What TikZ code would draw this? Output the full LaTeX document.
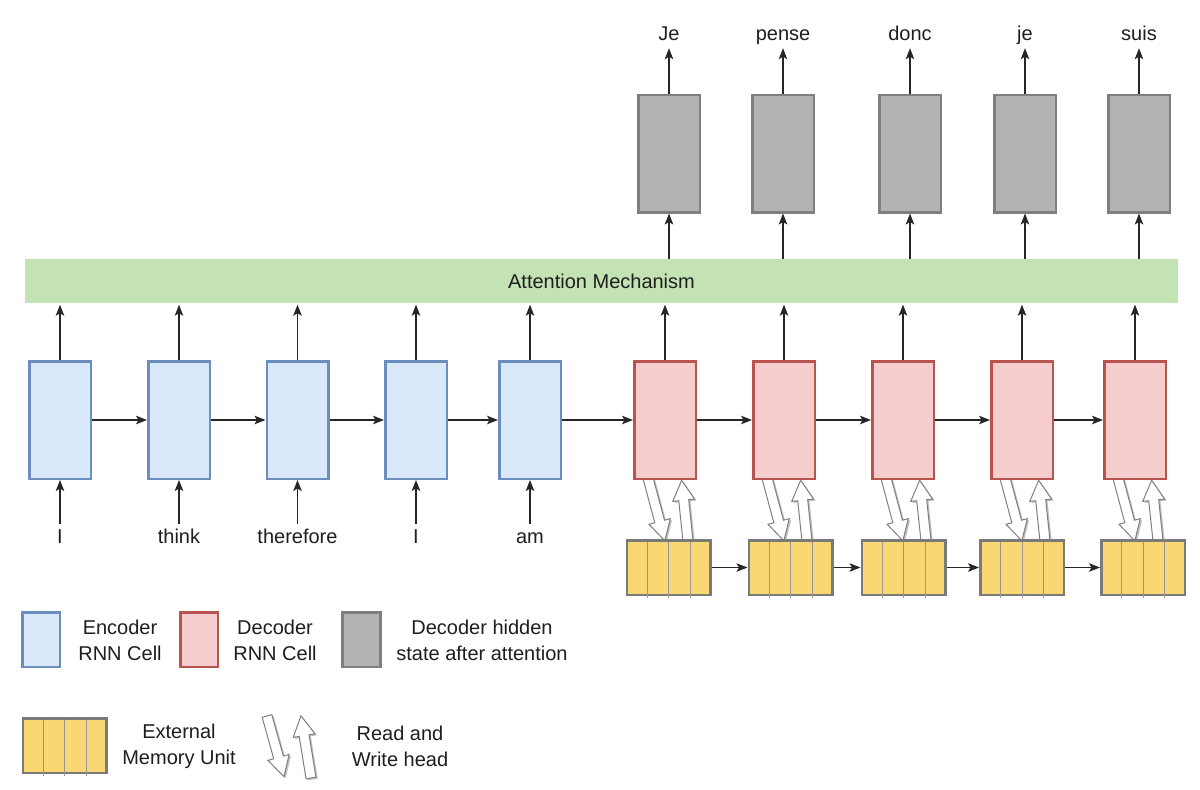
\documentclass[tikz,border=0pt]{standalone}
\usepackage{fontspec}
\setmainfont{Liberation Sans}
\usetikzlibrary{arrows.meta,calc,backgrounds}
\definecolor{encfill}{HTML}{DAE8FC}
\definecolor{encdraw}{HTML}{6C8EBF}
\definecolor{decfill}{HTML}{F5CDCC}
\definecolor{decdraw}{HTML}{B85450}
\definecolor{hidfill}{HTML}{B3B3B3}
\definecolor{hiddraw}{HTML}{7F7F7F}
\definecolor{memfill}{HTML}{F9D772}
\definecolor{memdraw}{HTML}{7A7A7A}
\definecolor{attfill}{HTML}{C4E3B5}
\definecolor{txt}{HTML}{1E1E1E}
\tikzset{
  cellbox/.style={draw, line width=2.5pt, minimum width=61.5pt, minimum height=117.5pt, inner sep=0pt},
  enc/.style={cellbox, fill=encfill, draw=encdraw},
  dec/.style={cellbox, fill=decfill, draw=decdraw},
  hid/.style={cellbox, fill=hidfill, draw=hiddraw},
  mem/.style={draw=memdraw, fill=memfill, line width=2.5pt, minimum width=83.5pt, minimum height=54.5pt, inner sep=0pt},
  memline/.style={draw=memdraw!80, line width=1pt},
  word/.style={text=txt, inner sep=4pt, text height=14.5pt, text depth=4pt, anchor=base},
  legtext/.style={text=txt, align=center, inner sep=0pt},
  arr/.style={draw=black!85, line width=1.1pt, -{Stealth[length=11pt,width=8.5pt,inset=2.5pt]}},
  attbox/.style={fill=attfill, minimum width=1153pt, minimum height=44pt, inner sep=0pt, text=txt},
  pics/rwarrow/.style={code={
    \path[pic actions] (0pt,-5pt) -- ({#1-20pt},-5pt) -- ({#1-20pt},-11pt) -- (#1,0pt)
      -- ({#1-20pt},11pt) -- ({#1-20pt},5pt) -- (0pt,5pt) -- cycle;}}
}
\newcommand\rwhead[3]{%
  \pic[rotate=#2, fill=black!25] at ($#1+(1.8,1.5)$) {rwarrow=#3};
  \pic[rotate=#2, draw=black!50, fill=white, line width=1pt] at ($#1$) {rwarrow=#3};}
\begin{document}
\begin{tikzpicture}[x=1pt, y=-1pt, font=\fontsize{20}{26}\selectfont]
\useasboundingbox (0,0) rectangle (1200,790);

% attention bar
\node[attbox] (att) at (601.5,281) {Attention Mechanism};

% encoder cells and inputs
\foreach \i/\x/\w in {1/60/I, 2/179/think, 3/297.5/therefore, 4/416/I, 5/530/am} {
  \node[enc] (e\i) at (\x,420) {};
  \node[word] (in\i) at (\x,543) {\w};
  \draw[arr] (in\i.north) -- (e\i.south);
  \draw[arr, shorten >=1.5pt] (e\i.north) -- (e\i.north |- att.south);
}

% decoder cells, hidden states, outputs
\foreach \i/\x/\hx/\w in {1/665/669/Je, 2/784/783/pense, 3/903/910/donc, 4/1022/1025/je, 5/1135/1139/suis} {
  \node[dec] (d\i) at (\x,420) {};
  \node[hid] (h\i) at (\hx,153.5) {};
  \node[word] (out\i) at (\hx,40) {\w};
  \draw[arr, shorten >=1.5pt] (d\i.north) -- (d\i.north |- att.south);
  \draw[arr] (att.north -| h\i.south) -- (h\i.south);
  \draw[arr] (h\i.north) -- (out\i.south);
}

% recurrent connections
\draw[arr] (e1.east) -- (e2.west);
\draw[arr] (e2.east) -- (e3.west);
\draw[arr] (e3.east) -- (e4.west);
\draw[arr] (e4.east) -- (e5.west);
\draw[arr] (e5.east) -- (d1.west);
\draw[arr] (d1.east) -- (d2.west);
\draw[arr] (d2.east) -- (d3.west);
\draw[arr] (d3.east) -- (d4.west);
\draw[arr] (d4.east) -- (d5.west);

% memory units
\foreach \i/\x in {1/668.5, 2/790.5, 3/903.5, 4/1022, 5/1143} {
  \node[mem] (m\i) at (\x,567.5) {};
}
\draw[arr] (m1.east) -- (m2.west);
\draw[arr] (m2.east) -- (m3.west);
\draw[arr] (m3.east) -- (m4.west);
\draw[arr] (m4.east) -- (m5.west);

% read / write heads (behind boxes)
\begin{pgfonlayer}{background}
\fill[white] (0,0) rectangle (1200,790);
\foreach \i in {1,...,5} {
  \rwhead{(d\i.south west)+(15,-2)}{-75}{65pt}
  \rwhead{(d\i.south west)+(55,61)}{96}{61pt}
}
\end{pgfonlayer}

% legend
\node[enc, minimum width=37.5pt, minimum height=54.5pt] (lenc) at (41,639.5) {};
\node[legtext] (tenc) at (120,640) {Encoder\\RNN Cell};
\node[dec, minimum width=37.5pt, minimum height=54.5pt] (ldec) at (199,639.5) {};
\node[legtext] (tdec) at (275,640) {Decoder\\RNN Cell};
\node[hid, minimum width=38pt, minimum height=54.5pt] (lhid) at (361.5,639.5) {};
\node[legtext] (thid) at (482,640) {Decoder hidden\\state after attention};
\node[mem] (lm) at (64.5,745.5) {};
\node[legtext] (tmem) at (179,746.5) {External\\Memory Unit};
\rwhead{(267,716)}{-74.4}{63pt}
\rwhead{(311,778)}{99.2}{63pt}
\node[legtext] (thead) at (400,746.5) {Read and\\Write head};

% memory cell dividers
\foreach \m in {m1,m2,m3,m4,m5,lm} {
  \foreach \f in {0.25,0.5,0.75} {
    \draw[memline] ($(\m.north west)!\f!(\m.north east)+(0,2.5)$) -- ($(\m.south west)!\f!(\m.south east)+(0,2)$);
  }
}
\end{tikzpicture}
\end{document}
